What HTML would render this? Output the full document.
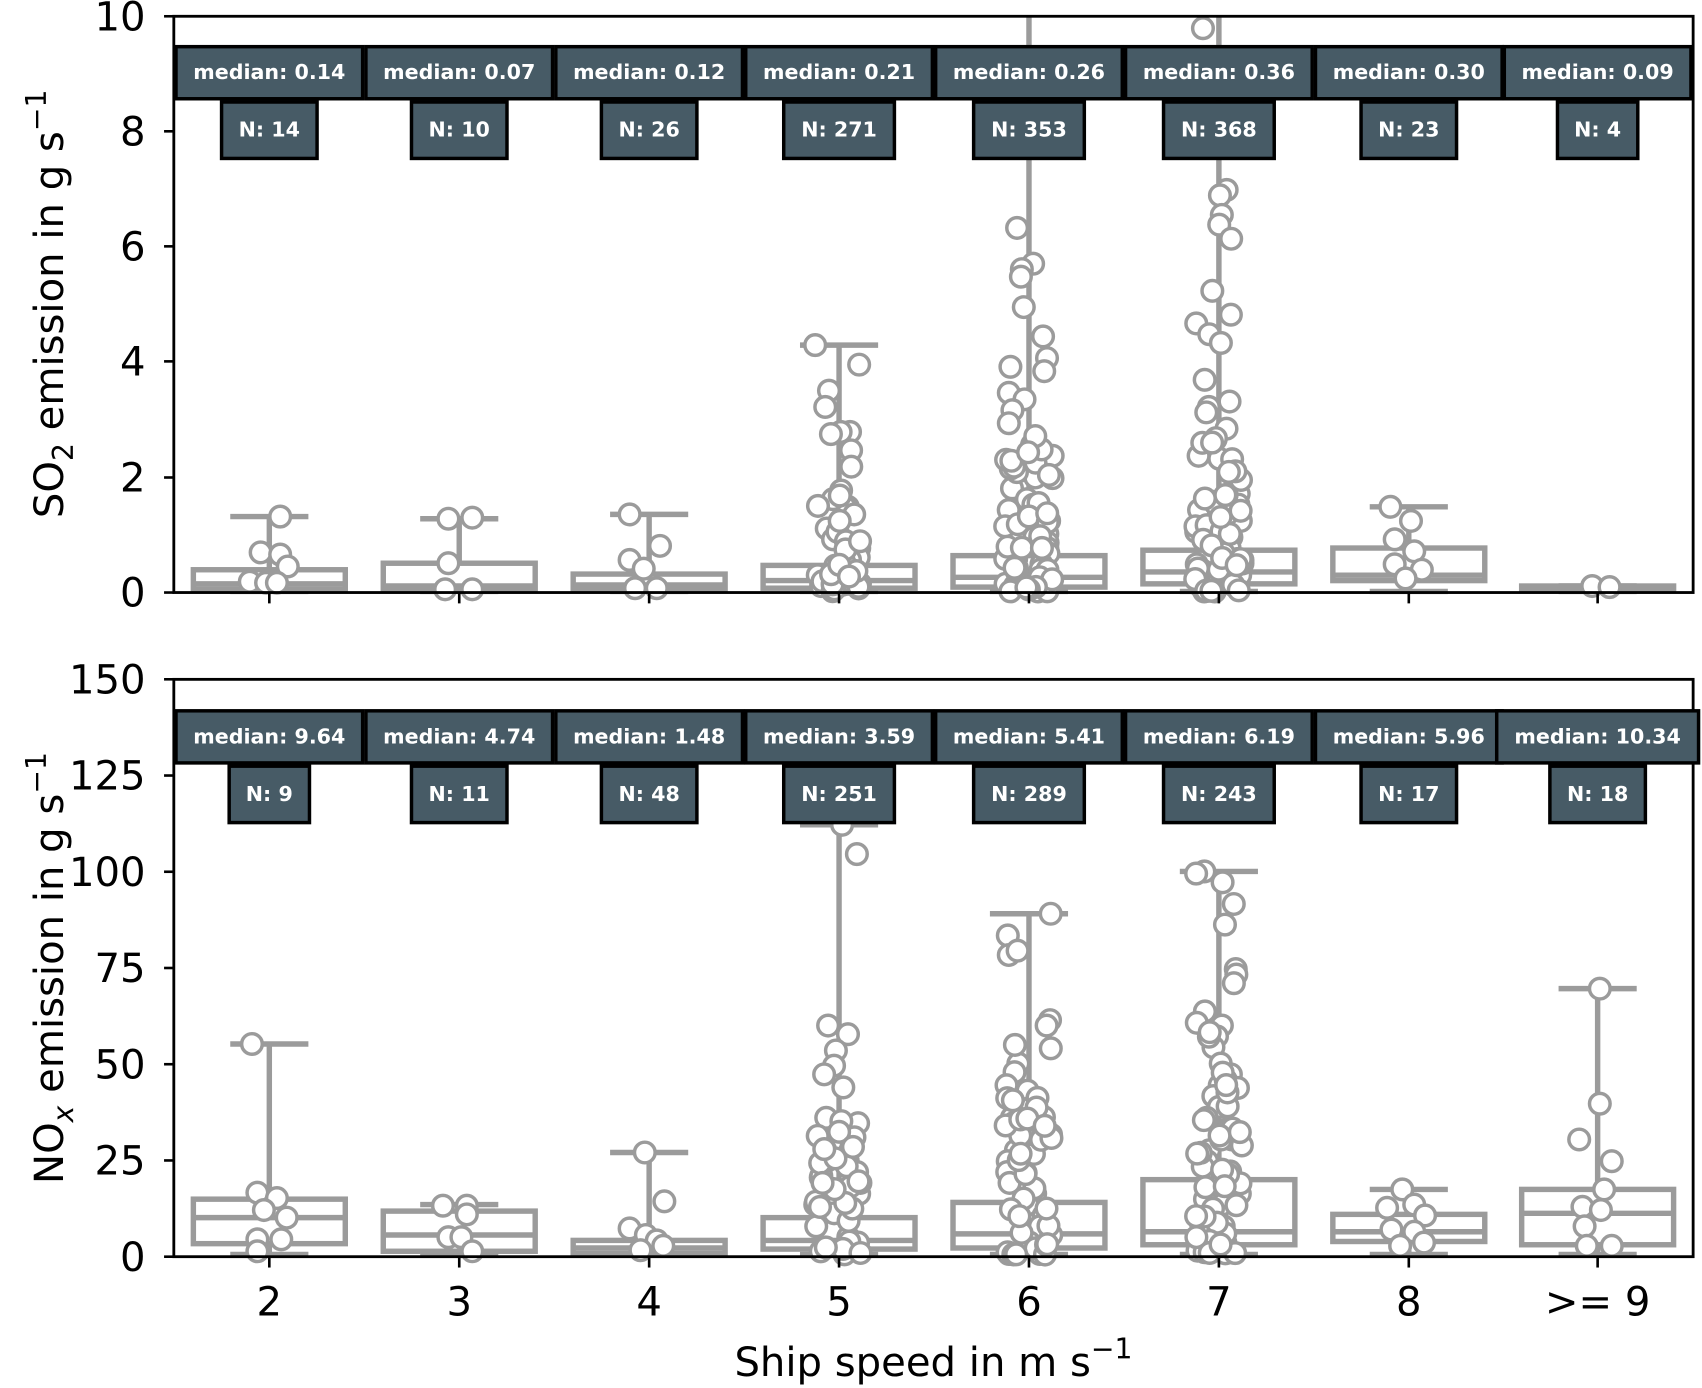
<!DOCTYPE html>
<html><head><meta charset="utf-8"><style>
html,body{margin:0;padding:0;background:#fff;width:1702px;height:1388px;overflow:hidden}
svg{display:block}
text{font-family:"DejaVu Sans","Liberation Sans",sans-serif}
.bx{fill:#475b66;stroke:#000;stroke-width:3.2}
.lb{fill:#fff;font-weight:bold;font-size:19px;text-anchor:middle}
.tk{font-size:37px;fill:#000}
</style></head><body>
<svg id="s" width="1702" height="1388" viewBox="0 0 1568 1279" xmlns="http://www.w3.org/2000/svg">
<g id="plots"></g>
<g id="frame" fill="none" stroke="#000" stroke-width="2.6">
<rect x="160" y="15" width="1400" height="531"/>
<rect x="160" y="626" width="1400" height="532"/>
</g>
<g id="labels"></g>
<g id="ticks" stroke="#000" stroke-width="2.4"></g>
<g id="txt"></g>
<text x="58" y="280" class="tk" font-size="39" text-anchor="middle" transform="rotate(-90 58 280)">SO<tspan font-size="26" dy="9">2</tspan><tspan dy="-9"> emission in g s</tspan><tspan font-size="26" dy="-16">−1</tspan></text>
<text x="58" y="892" class="tk" font-size="39" text-anchor="middle" transform="rotate(-90 58 892)">NO<tspan font-size="26" dy="9" font-style="italic">x</tspan><tspan dy="-9"> emission in g s</tspan><tspan font-size="26" dy="-16">−1</tspan></text>
<text x="860" y="1268" class="tk" font-size="38" text-anchor="middle">Ship speed in m s<tspan font-size="26" dy="-16">−1</tspan></text>
</svg>
<script>
var NS="http://www.w3.org/2000/svg";
function el(p,t,a,txt){var e=document.createElementNS(NS,t);for(var k in a)e.setAttribute(k,a[k]);if(txt!==undefined)e.textContent=txt;document.getElementById(p).appendChild(e);return e;}
var X=[248,423,598,773,948,1123,1298,1472];
var seed=7;function rnd(){seed=(seed*16807)%2147483647;return seed/2147483647;}
var G="#9b9b9b",SW=5;
function box(cx,q1,med,q3,wlo,whi,top){
 el("plots","line",{x1:cx,x2:cx,y1:whi,y2:q1,stroke:G,"stroke-width":SW});
 el("plots","line",{x1:cx,x2:cx,y1:q3,y2:wlo,stroke:G,"stroke-width":SW});
 if(whi>top){el("plots","line",{x1:cx-36,x2:cx+36,y1:whi,y2:whi,stroke:G,"stroke-width":SW});}
 el("plots","line",{x1:cx-36,x2:cx+36,y1:wlo,y2:wlo,stroke:G,"stroke-width":SW});
 el("plots","rect",{x:cx-70,y:q1,width:140,height:Math.max(q3-q1,2),fill:"none",stroke:G,"stroke-width":SW});
 el("plots","line",{x1:cx-70,x2:cx+70,y1:med,y2:med,stroke:G,"stroke-width":SW});
}
function pts(list){list.forEach(function(p){el("plots","circle",{cx:p[0],cy:p[1],r:9.5,fill:"#fff",stroke:G,"stroke-width":3.2});});}
function col(cx,ys,extra,lo,hi){var a=ys.map(function(y){return [cx+(rnd()-0.5)*44,y];});
 for(var i=0;i<extra;i++){var y=hi-Math.pow(rnd(),2.2)*(hi-lo);a.push([cx+(rnd()-0.5)*44,y]);}return a;}
// TOP
box(248,525,538,543,545,476,20);
box(423,519,540,543,545,478,20);
box(598,529,539,543,545,474,20);
box(773,521,535,542,545,318,20);
box(948,512,532,541,545,16,20);
box(1123,507,527,538,545,16,20);
box(1298,505,530,535,545,467,20);
box(1472,540,541,544,545,540,20);
pts([[258,476],[240,509],[258,511],[265,522],[230,536],[245,537],[255,537]]);
pts([[413,478],[435,477],[413,519],[410,543],[435,543]]);
pts([[580,474],[608,503],[580,516],[593,524],[585,542],[605,542]]);
pts(col(773,[318,336,360,375,398,398,400,415,430,452,467,468,474,487,497,508,514,530,538,490,505,520,540,480,500],25,440,545));
pts(col(948,[210,243,248,255,283,310,330,338,342,362,368,378,390,420,430,440,450,460,465,475,480,492,500,505,510,520,530,538,435,470,485,495,515,525,540,545],35,400,545));
pts(col(1123,[26,175,180,198,207,220,268,290,298,308,316,350,370,375,380,395,405,420,430,440,455,465,475,480,490,495,500,505,515,520,525,535,540,470,485,510,530,545],40,400,545));
pts([[1281,467],[1300,480],[1285,497],[1303,508],[1285,520],[1310,525],[1295,533]]);
pts([[1467,540],[1483,541]]);
// BOTTOM
box(248,1105,1122,1146,1156,962,630);
box(423,1116,1138,1153,1156,1110,630);
box(598,1143,1150,1155,1156,1062,630);
box(773,1122,1143,1151,1156,760,630);
box(948,1108,1137,1150,1156,842,630);
box(1123,1087,1135,1147,1156,803,630);
box(1298,1119,1135,1144,1156,1096,630);
box(1472,1096,1118,1147,1156,911,630);
pts([[232,962],[237,1099],[255,1104],[243,1115],[264,1122],[237,1142],[259,1142],[237,1153]]);
pts([[408,1111],[430,1111],[430,1119],[413,1140],[425,1140],[435,1153]]);
pts([[594,1062],[612,1107],[580,1132],[595,1138],[605,1143],[590,1152],[611,1148]]);
pts(col(773,[760,787,945,953,968,982,990,1002,1030,1035,1048,1053,1070,1080,1085,1095,1100,1110,1115,1118,1130,1140,1145,1150,1060,1090,1125],25,1020,1156));
pts(col(948,[842,862,880,876,940,945,966,980,988,1000,1005,1020,1030,1040,1050,1060,1070,1080,1090,1100,1110,1120,1130,1145,1150,1065,1095,1138],35,960,1156));
pts(col(1123,[803,805,813,833,852,893,898,906,932,945,955,965,980,990,1000,1010,1020,1030,1040,1050,1060,1070,1080,1090,1100,1110,1120,1130,1140,1145,1150,1075,1105,1135],40,940,1156));
pts([[1292,1096],[1278,1113],[1303,1110],[1313,1120],[1282,1133],[1303,1135],[1290,1148],[1312,1145]]);
pts([[1474,911],[1474,1017],[1455,1050],[1485,1070],[1478,1096],[1458,1112],[1475,1115],[1460,1130],[1462,1148],[1485,1148]]);
// labels
var med1=["0.14","0.07","0.12","0.21","0.26","0.36","0.30","0.09"],n1=["14","10","26","271","353","368","23","4"];
var med2=["9.64","4.74","1.48","3.59","5.41","6.19","5.96","10.34"],n2=["9","11","48","251","289","243","17","18"];
function row(meds,ns,my,ny){
 for(var i=0;i<8;i++){var cx=X[i];var w=meds[i].length>4?186:172;
  el("labels","rect",{class:"bx",x:cx-w/2,y:my,width:w,height:48});
  el("labels","text",{class:"lb",x:cx,y:my+30},"median: "+meds[i]);
  var nw=ns[i].length==1?74:ns[i].length==2?88:102;
  el("labels","rect",{class:"bx",x:cx-nw/2,y:ny,width:nw,height:52});
  el("labels","text",{class:"lb",x:cx,y:ny+32},"N: "+ns[i]);}
}
row(med1,n1,43,94);
row(med2,n2,655,706);
// ticks
[[0,546],[2,440],[4,333],[6,227],[8,121],[10,15]].forEach(function(t){
 el("ticks","line",{x1:151,x2:160,y1:t[1],y2:t[1]});
 el("txt","text",{class:"tk","text-anchor":"end",x:134,y:t[1]+13},String(t[0]));});
[0,25,50,75,100,125,150].forEach(function(v){var y=1158-v*3.547;
 el("ticks","line",{x1:151,x2:160,y1:y,y2:y});
 el("txt","text",{class:"tk","text-anchor":"end",x:134,y:y+13},String(v));});
var xl=["2","3","4","5","6","7","8",">= 9"];
X.forEach(function(x,i){
 el("ticks","line",{x1:x,x2:x,y1:546,y2:556});
 el("ticks","line",{x1:x,x2:x,y1:1158,y2:1168});
 el("txt","text",{class:"tk","text-anchor":"middle",x:x,y:1212},xl[i]);});
</script>
</body></html>
